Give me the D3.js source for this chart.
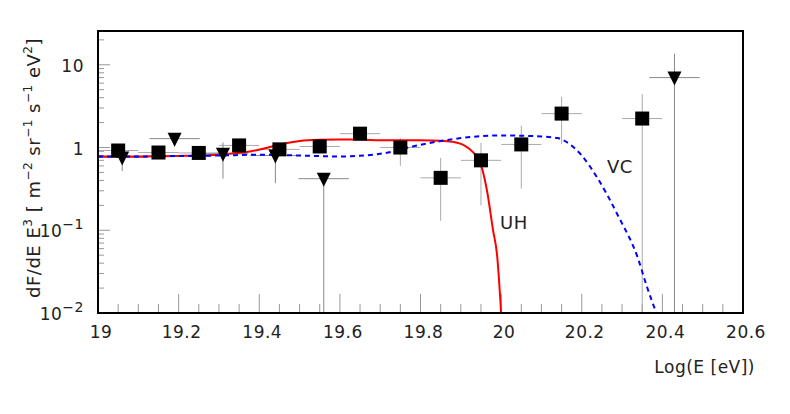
<!DOCTYPE html><html><head><meta charset="utf-8">
<script src="https://cdn.jsdelivr.net/npm/d3@7"></script>
<style>body{margin:0;background:#fff}text{font-family:"DejaVu Sans",sans-serif;fill:#222;letter-spacing:0.5px}</style></head><body>
<svg id="c" width="790" height="414"></svg>
<script>
// squares: [x, y, yLow, yHigh]
const squares = [
 [19.05,0.92,0.8,1.05],[19.15,0.87,0.77,0.98],[19.25,0.86,0.77,0.96],[19.35,1.06,0.92,1.2],
 [19.45,0.95,0.8,1.1],[19.55,1.03,0.85,1.2],[19.65,1.47,1.26,1.68],[19.75,1.0,0.6,1.3],
 [19.85,0.43,0.13,0.75],[19.95,0.70,0.2,1.14],[20.05,1.09,0.32,1.84],[20.15,2.57,1.1,4.1],
 [20.35,2.24,0.01,4.4]];
const squareXErr = 0.05;
// triangles: [x, y, yLow, yHigh]
const triangles = [
 [19.06,0.76,0.52,0.85],[19.19,1.28,1.05,1.5],[19.31,0.84,0.42,1.15],[19.44,0.80,0.37,0.92],
 [19.56,0.42,0.01,0.42],[20.43,7.0,0.01,13.6]];
const triXErr = 0.0625;
const curveUH = [[19,0.78],[19.1,0.78],[19.2,0.79],[19.3,0.82],[19.38,0.9],[19.45,1.08],[19.5,1.2],[19.55,1.24],[19.6,1.25],[19.65,1.25],[19.7,1.22],[19.8,1.22],[19.85,1.21],[19.88,1.17],[19.91,1.05],[19.93,0.88],[19.95,0.62],[19.965,0.3],[19.98,0.1],[19.99,0.05],[20.0,0.01]];
const curveVC = [[19,0.78],[19.1,0.78],[19.2,0.79],[19.3,0.8],[19.4,0.82],[19.5,0.8],[19.6,0.78],[19.7,0.84],[19.8,1.08],[19.9,1.3],[20.0,1.4],[20.1,1.36],[20.14,1.3],[20.17,1.1],[20.2,0.8],[20.24,0.42],[20.29,0.15],[20.34,0.045],[20.36,0.022],[20.385,0.01]];
const xTicks = [19,19.2,19.4,19.6,19.8,20,20.2,20.4,20.6];
const yTicks = [0.01,0.1,1,10];

const svg=d3.select("#c");
const L=98,R=743,T=31,B=313;
const x=d3.scaleLinear().domain([19,20.6]).range([L,R]);
const y=d3.scaleLog().domain([0.01,25.6]).range([B,T]);
const g=svg.append("g");
for(let v=19;v<=20.6+1e-9;v+=0.05){const maj=Math.abs(v*5-Math.round(v*5))<1e-6;
 g.append("line").attr("x1",x(v)).attr("x2",x(v)).attr("y1",B).attr("y2",B-(maj?19:9)).attr("stroke","#999");}
for(let e=-2;e<=1;e++)for(let k=1;k<=9;k++){const v=k*Math.pow(10,e);if(v>25.6)break;
 g.append("line").attr("x1",L).attr("x2",L+(k==1?12:6)).attr("y1",y(v)).attr("y2",y(v)).attr("stroke","#999");}
const eb=(arr,xe,col)=>arr.forEach(d=>{
 g.append("line").attr("x1",x(d[0]-xe)).attr("x2",x(d[0]+xe)).attr("y1",y(d[1])).attr("y2",y(d[1])).attr("stroke",col);
 g.append("line").attr("x1",x(d[0])).attr("x2",x(d[0])).attr("y1",y(d[2])).attr("y2",y(d[3])).attr("stroke",col);});
eb(squares,squareXErr,"#aaa");eb(triangles,triXErr,"#888");
const line=d3.line().x(d=>x(d[0])).y(d=>y(d[1])).curve(d3.curveMonotoneX);
g.append("path").attr("d",line(curveUH)).attr("fill","none").attr("stroke","#f00").attr("stroke-width",2);
g.append("path").attr("d",line(curveVC)).attr("fill","none").attr("stroke","#00f").attr("stroke-width",2).attr("stroke-dasharray","5,4");
squares.forEach(d=>g.append("rect").attr("x",x(d[0])-7).attr("y",y(d[1])-7).attr("width",14).attr("height",14).attr("fill","#000"));
triangles.forEach(d=>{const cx=x(d[0]),cy=y(d[1]);
 g.append("path").attr("d",`M${cx-7},${cy-6}L${cx+7},${cy-6}L${cx},${cy+8}Z`).attr("fill","#000");});
svg.append("rect").attr("x",L).attr("y",T).attr("width",R-L).attr("height",B-T).attr("fill","none").attr("stroke","#000").attr("stroke-width",2);
xTicks.forEach(v=>svg.append("text").attr("x",x(v)+3).attr("y",338).attr("text-anchor","middle").attr("font-size",17).text(v));
const yl={0.01:["10","−2"],0.1:["10","−1"],1:["1",""],10:["10",""]};
yTicks.forEach(v=>{const t=svg.append("text").attr("x",84).attr("y",y(v)+7).attr("text-anchor","end").attr("font-size",17);
 t.append("tspan").text(yl[v][0]);if(yl[v][1])t.append("tspan").attr("dy",-8).attr("font-size",14).text(yl[v][1]);});
svg.append("text").attr("x",755).attr("y",373).attr("text-anchor","end").attr("font-size",17).attr("letter-spacing","1px").text("Log(E [eV])");
const ya=svg.append("text").attr("transform","translate(40,168) rotate(-90)").attr("text-anchor","middle").attr("font-size",18).attr("letter-spacing","1.3px");
ya.append("tspan").text("dF/dE E");ya.append("tspan").attr("dy",-8).attr("font-size",12).text("3");
ya.append("tspan").attr("dy",8).text(" [ m");ya.append("tspan").attr("dy",-8).attr("font-size",12).text("−2");
ya.append("tspan").attr("dy",8).text(" sr");ya.append("tspan").attr("dy",-8).attr("font-size",12).text("−1");
ya.append("tspan").attr("dy",8).text(" s");ya.append("tspan").attr("dy",-8).attr("font-size",12).text("−1");
ya.append("tspan").attr("dy",8).text(" eV");ya.append("tspan").attr("dy",-8).attr("font-size",12).text("2");
ya.append("tspan").attr("dy",8).text("]");
svg.append("text").attr("x",500).attr("y",229).attr("font-size",18).text("UH");
svg.append("text").attr("x",607).attr("y",173).attr("font-size",18).text("VC");
</script></body></html>
